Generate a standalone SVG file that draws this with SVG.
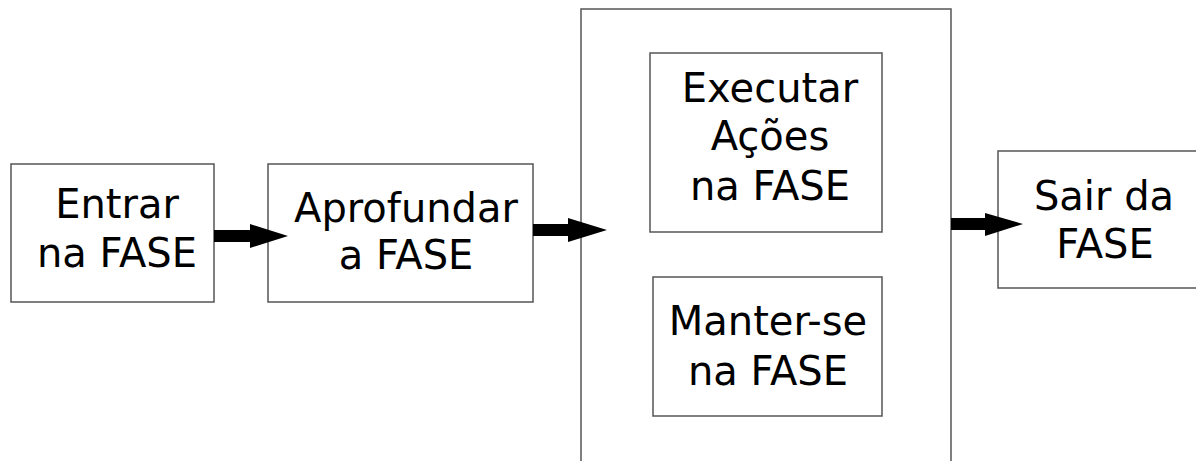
<svg xmlns="http://www.w3.org/2000/svg" width="1196" height="461" viewBox="0 0 1196 461">
  <style>
    .box { fill: #ffffff; stroke: #555555; stroke-width: 1.5; }
    .lbl { font-family: "DejaVu Sans", Verdana, sans-serif; font-size: 40px; fill: #000000; text-anchor: middle; }
    .arrow { fill: #000000; stroke: none; }
  </style>
  <rect width="1196" height="461" fill="#ffffff"/>

  <g id="entrar">
    <rect class="box" x="11" y="164" width="203" height="138"/>
    <text class="lbl" x="117" y="218">Entrar</text>
    <text class="lbl" x="117" y="267">na FASE</text>
  </g>

  <g id="aprofundar">
    <rect class="box" x="268" y="164" width="265" height="138"/>
    <text class="lbl" x="406" y="222">Aprofundar</text>
    <text class="lbl" x="406" y="269">a FASE</text>
  </g>

  <g id="fase">
    <rect class="box" x="581" y="9" width="370" height="470"/>
    <g id="executar">
      <rect class="box" x="650" y="53" width="232" height="179"/>
      <text class="lbl" x="770" y="102">Executar</text>
      <text class="lbl" x="770" y="150">Ações</text>
      <text class="lbl" x="770" y="200">na FASE</text>
    </g>
    <g id="manter">
      <rect class="box" x="653" y="277" width="229" height="139"/>
      <text class="lbl" x="768" y="335">Manter-se</text>
      <text class="lbl" x="768" y="385">na FASE</text>
    </g>
  </g>

  <g id="sair">
    <rect class="box" x="998" y="151" width="210" height="137"/>
    <text class="lbl" x="1104" y="210">Sair da</text>
    <text class="lbl" x="1105" y="258">FASE</text>
  </g>

  <g id="connectors">
    <polygon class="arrow" points="214,230 250,230 250,224 288,236 250,248 250,242 214,242"/>
    <polygon class="arrow" points="533,224 568,224 568,218 607,230 568,242 568,236 533,236"/>
    <polygon class="arrow" points="951,218 985,218 985,213 1023,224 985,236 985,230 951,230"/>
  </g>
</svg>
